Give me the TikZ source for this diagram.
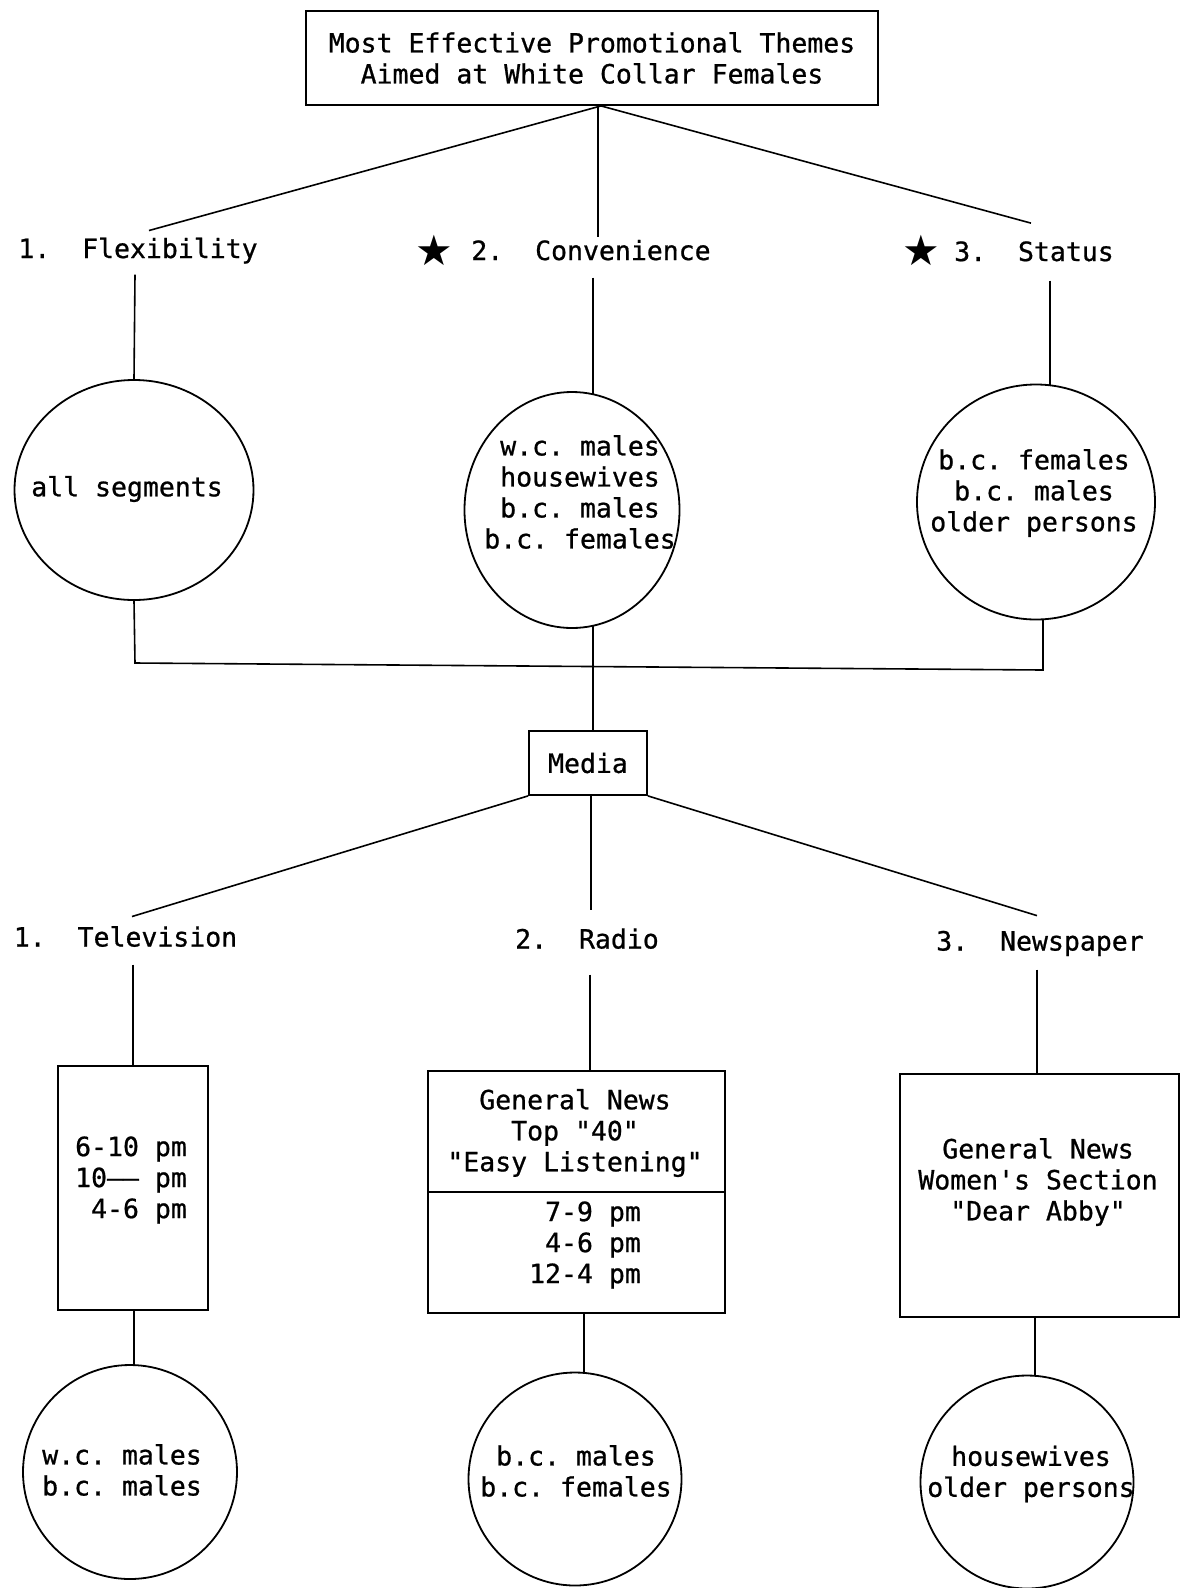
\documentclass[tikz,border=0pt]{standalone}
\usepackage{fontspec}
\setmonofont{DejaVu Sans Mono}[FakeBold=0.8]
\newfontfamily\starfont{DejaVu Sans}
\usetikzlibrary{shapes.geometric}
\begin{document}
\begin{tikzpicture}[x=1pt,y=-1pt,
  txt/.style={font=\ttfamily\fontsize{26.5}{31}\selectfont, inner sep=0pt, align=center},
  lbl/.style={txt, anchor=base},
  frame/.style={draw, rectangle, line width=1.8pt, inner sep=0pt},
  disc/.style={draw, ellipse, line width=1.8pt, inner sep=0pt},
  link/.style={line width=1.6pt},
  starmark/.style={font=\starfont\fontsize{42}{44}\selectfont, inner sep=0pt, anchor=center}]

\useasboundingbox (0,0) rectangle (1180,1588);

% title
\node[frame, minimum width=572pt, minimum height=94pt, txt] (top) at (592,58)
  {Most Effective Promotional Themes\\Aimed at White Collar Females};

% theme labels
\node[lbl] (flex) at (138,258) {1.~~Flexibility};
\node[starmark] (s2) at (434,250) {★};
\node[lbl] (conv) at (591,260) {2.~~Convenience};
\node[starmark] (s3) at (921,250) {★};
\node[lbl] (stat) at (1034,261) {3.~~Status};

\draw[link] ([xshift=9pt]top.south) -- ([xshift=11pt,yshift=7pt]flex.north);
\draw[link] ([xshift=6pt]top.south) -- ([xshift=7pt,yshift=3pt]conv.north);
\draw[link] ([xshift=9pt]top.south) -- ([xshift=-3pt,yshift=18pt]stat.north);

% theme circles
\node[disc, minimum width=239pt, minimum height=220pt] (A) at (134,490) {};
\node[txt] (At) at (127,489) {all segments};
\node[disc, minimum width=215pt, minimum height=236pt] (B) at (572,510) {};
\node[txt] (Bt) at (580,492) {w.c. males\\housewives\\b.c. males\\b.c. females};
\node[disc, minimum width=238pt, minimum height=235pt] (C) at (1036,502) {};
\node[txt] (Ct) at (1034,493) {b.c. females\\b.c. males\\older persons};

\draw[link] ([xshift=-3pt,yshift=-11pt]flex.south) -- (A.north);
\draw[link] ([xshift=2pt,yshift=-17pt]conv.south) -- ([xshift=21pt,yshift=-3pt]B.north);
\draw[link] ([xshift=16pt,yshift=-19pt]stat.south) -- ([xshift=14pt,yshift=-1pt]C.north);

% bus
\coordinate (bl) at (135,663);
\coordinate (br) at (1043,670);
\draw[link] (A.south) -- (bl) -- (br) -- ([xshift=7pt,yshift=1pt]C.south);

% media
\node[frame, minimum width=118pt, minimum height=64pt, txt] (M) at (588,763) {Media};
\draw[link] ([xshift=21pt,yshift=3pt]B.south) -- ([xshift=5pt]M.north);

% media labels
\node[lbl] (tv) at (125.5,946.5) {1.~~Television};
\node[lbl] (radio) at (587,948.5) {2.~~Radio};
\node[lbl] (news) at (1040,950.5) {3.~~Newspaper};

\draw[link] (M.south west) -- ([xshift=6.5pt,yshift=9.5pt]tv.north);
\draw[link] ([xshift=3pt]M.south) -- ([xshift=4pt,yshift=18pt]radio.north);
\draw[link] (M.south east) -- ([xshift=-3pt,yshift=15pt]news.north);

% media boxes
\node[frame, minimum width=150pt, minimum height=244pt] (TVb) at (133,1188) {};
\node[txt, align=right] (TVt) at (131,1180) {6-10~pm\\10——~pm\\4-6~pm};

\node[frame, minimum width=297pt, minimum height=242pt] (Rb) at (576.5,1192) {};
\draw[link] (Rb.west) -- (Rb.east);
\node[txt] (Rt1) at (575,1133) {General News\\Top "40"\\"Easy Listening"};
\node[txt, align=right] (Rt2) at (585,1245) {7-9~pm\\4-6~pm\\12-4~pm};

\node[frame, minimum width=279pt, minimum height=243pt] (Nb) at (1039.5,1195.5) {};
\node[txt] (Nt) at (1038,1182) {General News\\Women's Section\\"Dear Abby"};

\draw[link] ([xshift=7.5pt,yshift=-17.5pt]tv.south) -- (TVb.north);
\draw[link] ([xshift=3pt,yshift=-25.5pt]radio.south) -- ([xshift=13.5pt]Rb.north);
\draw[link] ([xshift=-3pt,yshift=-13.5pt]news.south) -- ([xshift=-2.5pt]Nb.north);

% audience circles
\node[disc, minimum width=214pt, minimum height=214pt] (L) at (130,1472) {};
\node[txt] (Lt) at (122,1470) {w.c. males\\b.c. males};
\node[disc, minimum width=213pt, minimum height=213pt] (Mc) at (575,1479) {};
\node[txt] (Mt) at (576,1471) {b.c. males\\b.c. females};
\node[disc, minimum width=213pt, minimum height=213pt] (Rc) at (1027,1482) {};
\node[txt] (Rt) at (1031,1474) {housewives\\older persons};

\draw[link] ([xshift=1pt]TVb.south) -- ([xshift=4pt]L.north);
\draw[link] ([xshift=7.5pt]Rb.south) -- ([xshift=9pt]Mc.north);
\draw[link] ([xshift=-4.5pt]Nb.south) -- ([xshift=8pt]Rc.north);
\end{tikzpicture}
\end{document}
